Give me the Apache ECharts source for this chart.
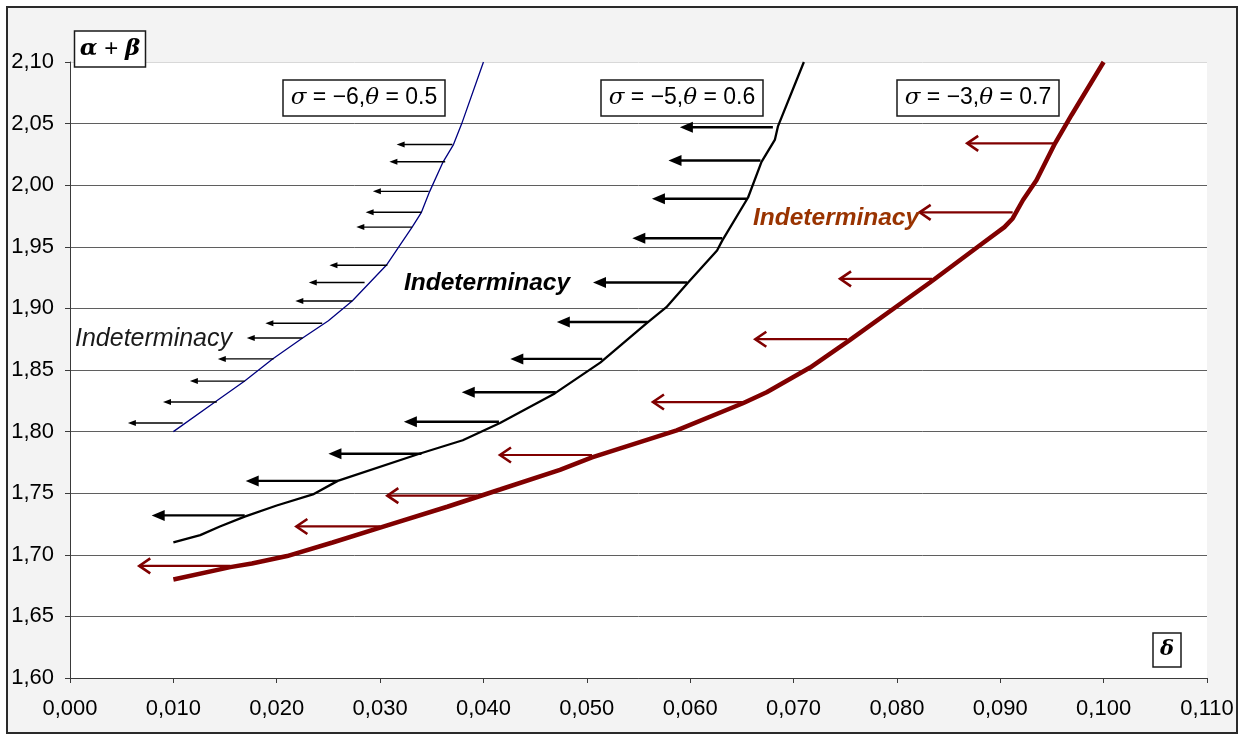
<!DOCTYPE html>
<html>
<head>
<meta charset="utf-8">
<script src="https://cdn.jsdelivr.net/npm/echarts@6.0.0/dist/echarts.min.js"></script>
<style>
  html, body { margin: 0; padding: 0; background: #ffffff; }
  #chart { width: 1249px; height: 735px; }
</style>
</head>
<body>
<div id="chart"></div>
<script>
// ---------- DATA ----------
const xTicks = { min: 0, max: 0.11, step: 0.01 };
const yTicks = { min: 1.6, max: 2.1, step: 0.05 };

// Curve sigma=-6, theta=0.5  [delta, alpha+beta]
const curveBlue = [
  [0.0100, 1.800], [0.0142, 1.825], [0.0169, 1.841], [0.0196, 1.859],
  [0.0225, 1.876], [0.0250, 1.890], [0.0273, 1.906], [0.0306, 1.935],
  [0.0331, 1.966], [0.0340, 1.978], [0.0348, 1.995], [0.0361, 2.019],
  [0.0371, 2.033], [0.0379, 2.050], [0.0400, 2.100]
];
// Curve sigma=-5, theta=0.6
const curveBlack = [
  [0.0100, 1.710], [0.0126, 1.716], [0.0145, 1.723], [0.0169, 1.731],
  [0.0200, 1.740], [0.0235, 1.749], [0.0259, 1.760], [0.0338, 1.782],
  [0.0380, 1.793], [0.0416, 1.807], [0.0469, 1.831], [0.0513, 1.856],
  [0.0558, 1.888], [0.0577, 1.901], [0.0598, 1.921], [0.0626, 1.947],
  [0.0631, 1.955], [0.0656, 1.990], [0.0669, 2.019], [0.0682, 2.037],
  [0.0685, 2.048], [0.0710, 2.100]
];
// Curve sigma=-3, theta=0.7
const curveRed = [
  [0.0100, 1.680], [0.0155, 1.690], [0.0176, 1.693], [0.0210, 1.699],
  [0.0254, 1.710], [0.0300, 1.722], [0.0365, 1.739], [0.0416, 1.753],
  [0.0474, 1.769], [0.0505, 1.779], [0.0587, 1.801], [0.0651, 1.823],
  [0.0674, 1.832], [0.0716, 1.852], [0.0754, 1.874], [0.0832, 1.921],
  [0.0880, 1.951], [0.0904, 1.966], [0.0912, 1.973], [0.0922, 1.988],
  [0.0935, 2.004], [0.0953, 2.034], [0.0969, 2.057], [0.1000, 2.100]
];

// Arrows: [from delta, to delta, alpha+beta]
const arrowsBlue = [
  [0.0109, 0.0056, 1.807], [0.0142, 0.0090, 1.824], [0.0169, 0.0116, 1.841],
  [0.0197, 0.0143, 1.859], [0.0225, 0.0171, 1.876], [0.0244, 0.0189, 1.888],
  [0.0273, 0.0218, 1.906], [0.0285, 0.0231, 1.921], [0.0307, 0.0251, 1.935],
  [0.0331, 0.0277, 1.966], [0.0340, 0.0286, 1.978], [0.0347, 0.0293, 1.995],
  [0.0363, 0.0309, 2.019], [0.0370, 0.0316, 2.033]
];
const arrowsBlack = [
  [0.0169, 0.0079, 1.732], [0.0259, 0.0170, 1.760], [0.0340, 0.0250, 1.782],
  [0.0415, 0.0323, 1.808], [0.0470, 0.0379, 1.832], [0.0515, 0.0426, 1.859],
  [0.0559, 0.0471, 1.889], [0.0597, 0.0506, 1.921], [0.0631, 0.0544, 1.957],
  [0.0655, 0.0563, 1.989], [0.0668, 0.0579, 2.020], [0.0680, 0.0590, 2.047]
];
const arrowsRed = [
  [0.0155, 0.0067, 1.691], [0.0300, 0.0219, 1.723], [0.0394, 0.0307, 1.748],
  [0.0505, 0.0416, 1.781], [0.0651, 0.0564, 1.824], [0.0752, 0.0663, 1.875],
  [0.0834, 0.0745, 1.924], [0.0912, 0.0822, 1.978], [0.0953, 0.0868, 2.034]
];

const curveLabels = ['σ = −6,θ = 0.5', 'σ = −5,θ = 0.6', 'σ = −3,θ = 0.7'];
const regionLabel = 'Indeterminacy';
const yAxisTitle = 'α+β';
const xAxisTitle = 'δ';

// ---------- CHART ----------
const FONT = '"Liberation Sans", Arial, sans-serif';
const chart = echarts.init(document.getElementById('chart'), null, { renderer: 'canvas' });

function arrowRenderer(cfg) {
  return function (params, api) {
    const p0 = api.coord([api.value(0), api.value(2)]);
    const p1 = api.coord([api.value(1), api.value(2)]);
    const dx = p1[0] - p0[0], dy = p1[1] - p0[1];
    const len = Math.hypot(dx, dy) || 1;
    const ux = dx / len, uy = dy / len, nx = -uy, ny = ux;
    const L = cfg.headLen, W = cfg.headW;
    const base = [p1[0] - ux * L, p1[1] - uy * L];
    const left = [base[0] + nx * W, base[1] + ny * W];
    const right = [base[0] - nx * W, base[1] - ny * W];
    const end = cfg.open ? p1 : [p1[0] - ux * L * 0.5, p1[1] - uy * L * 0.5];
    const children = [{
      type: 'line',
      shape: { x1: p0[0], y1: p0[1], x2: end[0], y2: end[1] },
      style: { stroke: cfg.color, lineWidth: cfg.lineWidth }
    }];
    if (cfg.open) {
      children.push({
        type: 'polyline',
        shape: { points: [left, p1, right] },
        style: { stroke: cfg.color, lineWidth: cfg.headLineWidth, fill: null, lineJoin: 'miter' }
      });
    } else {
      children.push({
        type: 'polygon',
        shape: { points: [p1, left, right] },
        style: { fill: cfg.color }
      });
    }
    return { type: 'group', children: children };
  };
}

const gridColors = [];
for (let i = 0; i <= 10; i++) gridColors.push(i === 10 ? '#d8d8d8' : '#5f5f5f');

function boxText(cx, cy, w, h, rich, text, fill) {
  return [{
    type: 'rect',
    shape: { x: cx - w / 2, y: cy - h / 2, width: w, height: h },
    style: { fill: fill, stroke: '#1a1a1a', lineWidth: 1.5 },
    z: 100
  }, {
    type: 'text',
    x: cx, y: cy,
    style: { text: text, rich: rich, align: 'center', verticalAlign: 'middle', font: '23px ' + FONT, fill: '#000' },
    z: 101
  }];
}

const richSigma = {
  g: { fontFamily: '"DejaVu Serif", serif', fontStyle: 'italic', fontSize: 23, color: '#000' },
  n: { fontFamily: FONT, fontSize: 23, color: '#000' }
};
function sigmaText(s) {
  let out = '';
  for (const ch of s) {
    if (ch === 'σ' || ch === 'θ') out += '{g|' + ch + '}';
    else out += '{n|' + ch + '}';
  }
  return out;
}

const graphics = [
  {
    type: 'rect',
    shape: { x: 7, y: 7, width: 1230, height: 726 },
    style: { fill: '#f3f3f3', stroke: '#2a2a2a', lineWidth: 2 },
    z: -10, silent: true
  },
  ...boxText(110, 49, 71, 36, {
    g: { fontFamily: '"DejaVu Serif", serif', fontStyle: 'italic', fontWeight: 'bold', fontSize: 23, color: '#000' },
    n: { fontFamily: FONT, fontSize: 24, color: '#000' }
  }, '{g|α}{n| + }{g|β}', '#ffffff'),
  ...boxText(364, 98, 162, 36, richSigma, sigmaText(curveLabels[0]), '#ffffff'),
  ...boxText(682, 98, 162, 36, richSigma, sigmaText(curveLabels[1]), '#ffffff'),
  ...boxText(978, 98, 162, 36, richSigma, sigmaText(curveLabels[2]), '#ffffff'),
  ...boxText(1167, 650, 28, 34, {
    g: { fontFamily: '"DejaVu Serif", serif', fontStyle: 'italic', fontWeight: 'bold', fontSize: 21, color: '#000' }
  }, '{g|' + xAxisTitle + '}', '#ffffff'),
  {
    type: 'text', x: 75, y: 339, z: 50,
    style: { text: regionLabel, font: 'italic 25px ' + FONT, fill: '#1a1a1a', verticalAlign: 'middle' }
  },
  {
    type: 'text', x: 404, y: 283, z: 50,
    style: { text: regionLabel, font: 'italic bold 24.5px ' + FONT, fill: '#000', verticalAlign: 'middle' }
  },
  {
    type: 'text', x: 753, y: 218, z: 50,
    style: { text: regionLabel, font: 'italic bold 24.5px ' + FONT, fill: '#993300', verticalAlign: 'middle' }
  }
];

const option = {
  backgroundColor: '#ffffff',
  animation: false,
  grid: {
    left: 70, top: 62, width: 1137, height: 616,
    show: true, backgroundColor: '#ffffff', borderWidth: 0
  },
  xAxis: {
    type: 'value', min: xTicks.min, max: xTicks.max, interval: xTicks.step,
    axisLine: { show: true, onZero: false, lineStyle: { color: '#3a3a3a', width: 1 } },
    axisTick: { show: true, length: 5, inside: false, lineStyle: { color: '#3a3a3a' } },
    axisLabel: {
      margin: 20, fontSize: 22, fontFamily: FONT, color: '#000',
      formatter: v => v.toFixed(3).replace('.', ',')
    },
    splitLine: { show: false }
  },
  yAxis: {
    type: 'value', min: yTicks.min, max: yTicks.max, interval: yTicks.step,
    axisLine: { show: true, lineStyle: { color: '#3a3a3a', width: 1 } },
    axisTick: { show: true, length: 5, inside: false, lineStyle: { color: '#3a3a3a' } },
    axisLabel: {
      margin: 16, fontSize: 22, fontFamily: FONT, color: '#000',
      formatter: v => v.toFixed(2).replace('.', ',')
    },
    splitLine: { show: true, lineStyle: { color: gridColors, width: 1 } }
  },
  graphic: graphics,
  series: [
    {
      type: 'line', data: curveBlue, showSymbol: false, symbol: 'none',
      lineStyle: { color: '#000080', width: 1.3 }, z: 5
    },
    {
      type: 'line', data: curveBlack, showSymbol: false, symbol: 'none',
      lineStyle: { color: '#000000', width: 2.3 }, z: 5
    },
    {
      type: 'line', data: curveRed, showSymbol: false, symbol: 'none',
      lineStyle: { color: '#800000', width: 4.5 }, z: 5
    },
    {
      type: 'custom', data: arrowsBlue, encode: { x: [0, 1], y: 2 },
      renderItem: arrowRenderer({ color: '#000000', lineWidth: 1.4, headLen: 8, headW: 3, open: false }), z: 6
    },
    {
      type: 'custom', data: arrowsBlack, encode: { x: [0, 1], y: 2 },
      renderItem: arrowRenderer({ color: '#000000', lineWidth: 2.4, headLen: 13, headW: 5.5, open: false }), z: 6
    },
    {
      type: 'custom', data: arrowsRed, encode: { x: [0, 1], y: 2 },
      renderItem: arrowRenderer({ color: '#800000', lineWidth: 2.2, headLen: 11, headW: 7.5, headLineWidth: 2.6, open: true }), z: 6
    }
  ]
};
chart.setOption(option);
</script>
</body>
</html>
